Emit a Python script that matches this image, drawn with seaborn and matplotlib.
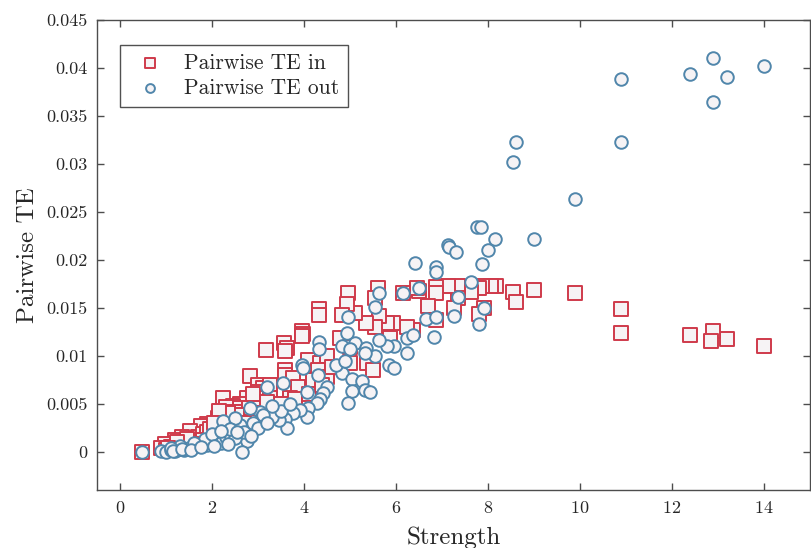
import numpy as np
import pandas as pd
import seaborn as sns
import matplotlib.pyplot as plt
from matplotlib.ticker import FuncFormatter

# strength / pairwise TE
strength_in = [14.0, 13.2, 12.9, 12.85, 12.4, 10.9, 10.9, 9.9, 9.0, 8.55, 8.6,
               8.18, 8.07, 7.86, 7.8, 7.92, 7.81, 7.64, 7.34, 7.34, 7.27, 7.12,
               6.88, 6.86, 6.88, 6.69, 6.5, 6.45, 6.16, 6.36, 6.23, 5.93, 5.8,
               5.86, 5.64, 5.6, 5.54, 5.54, 5.34, 5.1, 4.95, 4.93, 4.82, 4.78,
               4.99, 4.99, 5.36, 5.49, 4.32, 4.32, 3.95, 3.97, 3.95, 3.56, 3.62,
               3.58, 3.17, 4.08, 4.34, 4.49, 4.3, 3.58, 3.58, 3.75, 3.86, 2.82,
               3.0, 3.1, 3.0, 3.15, 3.26, 3.26, 3.69, 2.76, 2.6, 2.76, 2.9, 2.6,
               2.24, 2.45, 2.6, 2.3, 2.45, 2.65, 2.13, 1.89, 1.75, 1.52, 1.35,
               1.2, 0.98, 0.9, 0.48, 1.0, 1.1, 1.2, 1.3, 1.4, 1.5, 1.6, 1.7, 1.8,
               1.9, 2.0, 2.1, 2.2, 2.3, 2.4, 2.5, 2.2, 2.0, 1.8, 1.6, 2.7, 2.8,
               3.0, 3.1, 3.3, 3.5, 3.8, 4.1, 4.2, 4.5, 4.6, 4.4,
               2.55, 2.7, 2.35, 2.15, 1.95, 1.45, 1.25, 1.05, 2.9, 3.2, 2.5, 2.05]
te_in = [0.0110, 0.0117, 0.0126, 0.0115, 0.0122, 0.0149, 0.0124, 0.0165, 0.0169,
         0.0166, 0.0156, 0.0173, 0.0173, 0.0173, 0.0171, 0.0150, 0.0144, 0.0166,
         0.0173, 0.0160, 0.0150, 0.0173, 0.0172, 0.0165, 0.0137, 0.0152, 0.0167,
         0.0171, 0.0165, 0.0127, 0.0130, 0.0134, 0.0134, 0.0119, 0.0141, 0.0171,
         0.0160, 0.0130, 0.0134, 0.0145, 0.0165, 0.0154, 0.0142, 0.0118, 0.0109,
         0.0092, 0.0092, 0.0085, 0.0149, 0.0142, 0.0126, 0.0123, 0.0121, 0.0113,
         0.0108, 0.0105, 0.0106, 0.0096, 0.0092, 0.0100, 0.0085, 0.0085, 0.0080,
         0.0077, 0.0067, 0.0079, 0.0069, 0.0066, 0.0062, 0.0056, 0.0069, 0.0056,
         0.0056, 0.0056, 0.0050, 0.0036, 0.0033, 0.0036, 0.0056, 0.0048, 0.0046,
         0.0047, 0.0041, 0.0041, 0.0035, 0.0029, 0.0027, 0.0022, 0.0015, 0.0012,
         0.0008, 0.0004, 0.0000, 0.0002, 0.0005, 0.0003, 0.0008, 0.0006, 0.0010,
         0.0012, 0.0015, 0.0018, 0.0020, 0.0022, 0.0025, 0.0030, 0.0028, 0.0033,
         0.0030, 0.0020, 0.0017, 0.0012, 0.0008, 0.0025, 0.0045, 0.0048, 0.0040,
         0.0045, 0.0050, 0.0055, 0.0060, 0.0075, 0.0078, 0.0088, 0.0070,
         0.0038, 0.0030, 0.0040, 0.0042, 0.0024, 0.0013, 0.0010, 0.0004, 0.0060,
         0.0052, 0.0022, 0.0030]

strength_out = [14.0, 12.9, 12.4, 13.2, 12.9, 10.9, 10.9, 8.6, 8.55, 9.9, 9.0,
                8.15, 7.75, 7.85, 8.0, 7.86, 7.12, 7.16, 7.31, 6.42, 6.86, 6.88,
                7.64, 6.16, 6.49, 7.34, 7.92, 6.66, 6.88, 7.27, 7.81, 6.82, 6.23,
                6.36, 5.95, 5.8, 6.23, 5.84, 5.95, 5.62, 5.54, 4.95, 4.93, 4.32,
                4.32, 4.82, 5.1, 5.34, 5.64, 5.54, 5.32, 5.0, 4.82, 5.04, 5.25,
                5.32, 5.43, 5.04, 4.95, 3.95, 3.97, 3.54, 3.19, 4.06, 4.51, 4.41,
                4.34, 4.28, 4.08, 4.06, 3.91, 3.75, 3.58, 3.62, 3.45, 3.3, 3.04,
                3.08, 2.82, 2.6, 2.76, 2.65, 2.24, 0.48, 0.9, 1.0, 1.1, 1.2, 1.3,
                1.4, 1.5, 1.6, 1.7, 1.8, 1.9, 2.0, 2.1, 2.2, 2.3, 2.4, 2.5, 2.6,
                2.7, 2.9, 3.0, 3.1, 3.2, 2.5, 2.4, 1.85, 1.6, 1.3, 1.1, 2.0, 2.2,
                3.5, 3.7, 3.3, 4.7, 4.9, 4.3,
                1.15, 1.35, 1.55, 1.75, 2.05, 2.35, 2.55, 2.85]
te_out = [0.0402, 0.0410, 0.0394, 0.0391, 0.0364, 0.0389, 0.0323, 0.0323, 0.0302,
          0.0263, 0.0222, 0.0222, 0.0234, 0.0234, 0.0210, 0.0196, 0.0215, 0.0213,
          0.0208, 0.0197, 0.0192, 0.0187, 0.0177, 0.0165, 0.0171, 0.0161, 0.0150,
          0.0138, 0.0140, 0.0141, 0.0133, 0.0120, 0.0118, 0.0122, 0.0110, 0.0110,
          0.0103, 0.0090, 0.0087, 0.0165, 0.0151, 0.0140, 0.0124, 0.0114, 0.0107,
          0.0110, 0.0113, 0.0108, 0.0116, 0.0100, 0.0103, 0.0107, 0.0082, 0.0076,
          0.0074, 0.0064, 0.0062, 0.0063, 0.0051, 0.0090, 0.0087, 0.0072, 0.0067,
          0.0062, 0.0067, 0.0061, 0.0055, 0.0051, 0.0045, 0.0036, 0.0043, 0.0040,
          0.0034, 0.0025, 0.0033, 0.0036, 0.0041, 0.0036, 0.0046, 0.0022, 0.0011,
          0.0000, 0.0032, 0.0000, 0.0001, 0.0000, 0.0002, 0.0001, 0.0003, 0.0002,
          0.0004, 0.0005, 0.0006, 0.0008, 0.0007, 0.0010, 0.0012, 0.0009, 0.0015,
          0.0018, 0.0014, 0.0028, 0.0020, 0.0030, 0.0025, 0.0038, 0.0030, 0.0035,
          0.0024, 0.0013, 0.0009, 0.0006, 0.0004, 0.0018, 0.0022, 0.0042, 0.0050,
          0.0048, 0.0090, 0.0095, 0.0080,
          0.0001, 0.0003, 0.0002, 0.0005, 0.0006, 0.0008, 0.0021, 0.0016]

labels = ["Pairwise TE in", "Pairwise TE out"]
red = "#cf3a4b"
blue = "#5086ab"
face = "#f6f3f5"

sns.set_style("ticks")
plt.rcParams["font.family"] = ["cmr10", "DejaVu Serif"]
plt.rcParams["mathtext.fontset"] = "cm"
plt.rcParams["axes.formatter.use_mathtext"] = True

df_in = pd.DataFrame({"Strength": strength_in, "TE": te_in})
df_out = pd.DataFrame({"Strength": strength_out, "TE": te_out})

fig = plt.figure(figsize=(8.11, 5.48), dpi=100)
ax = fig.add_axes([0.1196, 0.1058, 0.8792, 0.8577])

sns.scatterplot(data=df_in, x="Strength", y="TE", ax=ax, marker="s", s=90,
                facecolor=face, edgecolor=red, linewidth=1.4, label=labels[0])
sns.scatterplot(data=df_out, x="Strength", y="TE", ax=ax, marker="o", s=82,
                facecolor=face, edgecolor=blue, linewidth=1.4, label=labels[1])

ax.set_xlim(-0.5, 15)
ax.set_ylim(-0.004, 0.045)
ax.set_xticks(np.arange(0, 15, 2))
ax.set_yticks(np.arange(0, 0.0451, 0.005))
ax.yaxis.set_major_formatter(FuncFormatter(lambda v, p: "%g" % round(v, 4)))

for s in ax.spines.values():
    s.set_visible(True)
    s.set_color("#4d4d4d")
    s.set_linewidth(1.0)
ax.tick_params(direction="in", length=5, width=1, color="#4d4d4d",
               top=True, right=True, labelsize=13, labelcolor="#262626", pad=7)

ax.set_xlabel("Strength", fontsize=18, color="#262626", labelpad=8)
ax.set_ylabel("Pairwise TE", fontsize=18, color="#262626", labelpad=5)

leg = ax.legend(loc="upper left", bbox_to_anchor=(0.032, 0.947), borderaxespad=0,
                fontsize=15.5, markerscale=0.7, frameon=True, fancybox=False,
                handletextpad=0.6, borderpad=0.4, labelspacing=0.25)
leg.get_frame().set_edgecolor("#262626")
leg.get_frame().set_linewidth(1.0)

plt.savefig("out.png", dpi=100)
